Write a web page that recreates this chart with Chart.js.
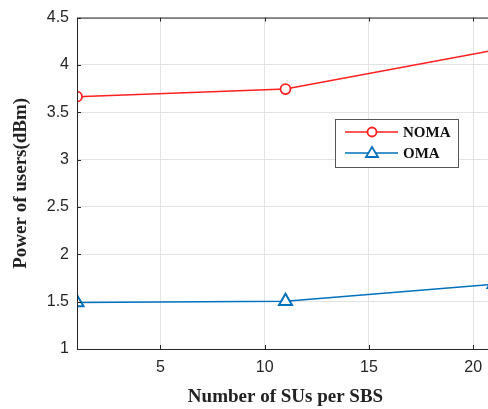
<!DOCTYPE html>
<html>
<head>
<meta charset="utf-8">
<script src="https://cdn.jsdelivr.net/npm/chart.js@4.4.1/dist/chart.umd.min.js"></script>
<style>
  html, body { margin: 0; padding: 0; background: #fff; overflow: hidden; }
  #wrap { width: 488px; height: 409px; overflow: hidden; }
  #wrap div { width: 510px; height: 409px; }
</style>
</head>
<body>
<div id="wrap"><div><canvas id="powerChart"></canvas></div></div>
<script>
const suCounts = [1, 11, 21];
const nomaPower = [3.665, 3.745, 4.155];
const omaPower = [1.49, 1.505, 1.685];
const xTicks = [5, 10, 15, 20];
const seriesNames = ["NOMA", "OMA"];

const RED = "#ff1f1f";
const BLUE = "#0072bd";
const SERIF = "'Liberation Serif', 'Times New Roman', serif";
const SANS = "'Liberation Sans', Arial, sans-serif";

// box + inward ticks + legend, MATLAB style
const boxPlugin = {
  id: "box",
  afterDraw(chart) {
    const { ctx, chartArea: a, scales } = chart;
    ctx.save();
    ctx.strokeStyle = "#262626";
    ctx.lineWidth = 1;
    ctx.beginPath();
    ctx.moveTo(a.left + 0.5, a.top + 0.5);
    ctx.lineTo(a.right, a.top + 0.5);
    ctx.moveTo(a.left + 0.5, a.top);
    ctx.lineTo(a.left + 0.5, a.bottom + 0.5);
    ctx.lineTo(a.right, a.bottom + 0.5);
    xTicks.forEach((v) => {
      const x = Math.round(scales.x.getPixelForValue(v)) + 0.5;
      ctx.moveTo(x, a.bottom);
      ctx.lineTo(x, a.bottom - 4);
      ctx.moveTo(x, a.top);
      ctx.lineTo(x, a.top + 4);
    });
    scales.y.ticks.forEach((t) => {
      const y = Math.round(scales.y.getPixelForValue(t.value)) + 0.5;
      ctx.moveTo(a.left, y);
      ctx.lineTo(a.left + 4, y);
    });
    ctx.stroke();

    // legend box
    const lx = 335, ly = 119, lw = 123, lh = 48;
    ctx.fillStyle = "#fff";
    ctx.fillRect(lx, ly, lw, lh);
    ctx.strokeStyle = "#555";
    ctx.strokeRect(lx + 0.5, ly + 0.5, lw, lh);
    const rows = [
      { name: seriesNames[0], color: RED, y: ly + 13, marker: "circle" },
      { name: seriesNames[1], color: BLUE, y: ly + 34, marker: "triangle" },
    ];
    rows.forEach((r) => {
      ctx.strokeStyle = r.color;
      ctx.lineWidth = 1.5;
      ctx.beginPath();
      ctx.moveTo(345, r.y);
      ctx.lineTo(398, r.y);
      ctx.stroke();
      ctx.lineWidth = 1.8;
      ctx.beginPath();
      if (r.marker === "circle") {
        ctx.fillStyle = "#fff";
        ctx.arc(372, r.y, 4.5, 0, Math.PI * 2);
        ctx.fill();
      } else {
        ctx.moveTo(372, r.y - 6);
        ctx.lineTo(378, r.y + 4);
        ctx.lineTo(366, r.y + 4);
        ctx.closePath();
        ctx.fillStyle = "#fff";
        ctx.fill();
      }
      ctx.stroke();
      ctx.fillStyle = "#111";
      ctx.font = "bold 15px " + SERIF;
      ctx.textBaseline = "middle";
      ctx.fillText(r.name, 403, r.y + 1);
    });
    ctx.restore();
  },
};

const ctx = document.getElementById("powerChart").getContext("2d");
new Chart(ctx, {
  type: "line",
  data: {
    datasets: [
      {
        label: seriesNames[0],
        data: suCounts.map((x, i) => ({ x, y: nomaPower[i] })),
        borderColor: RED,
        backgroundColor: "#fff",
        borderWidth: 1.5,
        pointStyle: "circle",
        pointRadius: 5,
        pointBorderWidth: 1.8,
        tension: 0,
      },
      {
        label: seriesNames[1],
        data: suCounts.map((x, i) => ({ x, y: omaPower[i] })),
        borderColor: BLUE,
        backgroundColor: "#fff",
        borderWidth: 1.5,
        pointStyle: "triangle",
        pointRadius: 7.5,
        pointBorderWidth: 2,
        tension: 0,
      },
    ],
  },
  options: {
    responsive: true,
    maintainAspectRatio: false,
    animation: false,
    layout: { padding: { top: 16, right: 16, left: 0, bottom: 0 } },
    plugins: { legend: { display: false }, tooltip: { enabled: false } },
    scales: {
      x: {
        type: "linear",
        min: 1,
        max: 21,
        afterBuildTicks: (s) => { s.ticks = xTicks.map((v) => ({ value: v })); },
        afterFit: (s) => { s.height = 60; },
        grid: { color: "#e3e3e3", drawTicks: false },
        border: { display: false },
        ticks: {
          color: "#262626",
          padding: 9,
          font: { family: SANS, size: 16 },
        },
        title: {
          display: true,
          text: "Number of SUs per SBS",
          color: "#222",
          padding: { top: 0, bottom: 1 },
          font: { family: SERIF, size: 19, weight: "bold" },
        },
      },
      y: {
        min: 1,
        max: 4.5,
        ticks: {
          stepSize: 0.5,
          color: "#262626",
          padding: 8,
          font: { family: SANS, size: 16 },
          callback: (v) => String(v),
        },
        afterFit: (s) => { s.width = 77; },
        grid: { color: "#e3e3e3", drawTicks: false },
        border: { display: false },
        title: {
          display: true,
          text: "Power of users(dBm)",
          color: "#222",
          padding: { top: 10, bottom: 0 },
          font: { family: SERIF, size: 19, weight: "bold" },
        },
      },
    },
  },
  plugins: [boxPlugin],
});
</script>
</body>
</html>
